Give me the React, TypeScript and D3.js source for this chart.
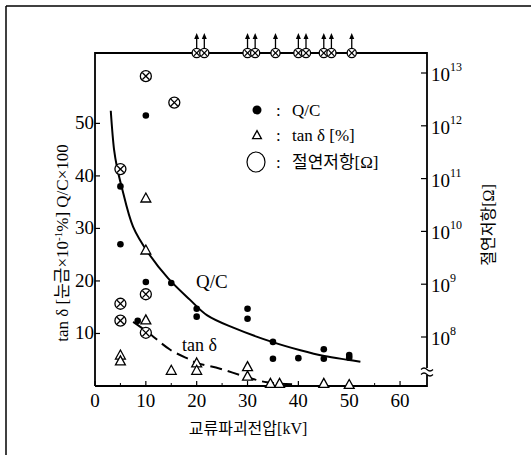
import React from 'react'
import * as d3 from 'd3'

// 교류파괴전압 [kV] vs Q/C, tan δ, 절연저항
const qcPoints: [number, number][] = [
  [5, 38], [5, 27], [8.4, 12.4], [10, 51.5], [10, 19.8], [15, 19.6],
  [20, 14.7], [20, 13.2], [30, 14.7], [30, 12.8], [35, 8.4], [35, 5.2],
  [40, 5.3], [45, 7.0], [45, 5.2], [50, 5.9], [50, 5.4],
]
const tanPoints: [number, number][] = [
  [10, 35.8], [10, 25.9], [10, 12.6], [5, 5.9], [5, 4.8], [15, 3.0],
  [20, 4.4], [20, 3.0], [30, 3.7], [30, 1.9], [34.5, 0.5], [36.3, 0.5],
  [45, 0.5], [50, 0.3],
]
// insulation resistance, log10(Ω)
const resPoints: [number, number][] = [
  [10, 12.94], [15.6, 12.44], [5, 11.18], [5, 8.63], [5, 8.31], [10, 8.81], [10, 8.08],
]
// off-scale points (above 10^13), drawn on the top frame with arrows
const resOver = [20, 21.5, 30, 31.5, 35.5, 40, 41.5, 45, 46.5, 50.5]

const qcCurve: [number, number][] = [
  [3.1, 52.4], [3.75, 45], [4.3, 41.8], [5.25, 37.9], [7.5, 30.3], [10.5, 25.3],
  [14.4, 20.5], [18.7, 16.4], [22, 13.5], [27.2, 11.1], [34.8, 8.4], [40.4, 6.8],
  [45.1, 5.7], [50, 4.95], [52.2, 4.6],
]
const tanCurve: [number, number][] = [
  [7.5, 12.2], [10.3, 10.3], [14.8, 6.9], [18.7, 5.0], [20, 4.4], [24.6, 3.3],
  [29.2, 1.9], [33.8, 0.7], [39.7, 0.3],
]

const xTicks = [0, 10, 20, 30, 40, 50, 60]
const xMinorTicks = [5, 15, 25, 35, 45, 55]
const yTicks = [10, 20, 30, 40, 50]
const rTicks = [8, 9, 10, 11, 12, 13]

const SERIF = 'Liberation Serif, DejaVu Serif, Noto Sans CJK KR, serif'

const Cross = ({ cx, cy, r }: { cx: number; cy: number; r: number }) => {
  const d = r * 0.62
  return (
    <g stroke="#000" strokeWidth={1.3} fill="#fff">
      <circle cx={cx} cy={cy} r={r} />
      <line x1={cx - d} y1={cy - d} x2={cx + d} y2={cy + d} />
      <line x1={cx - d} y1={cy + d} x2={cx + d} y2={cy - d} />
    </g>
  )
}

const Tri = ({ cx, cy, s }: { cx: number; cy: number; s: number }) => (
  <path
    d={`M${cx},${cy - s * 0.55}L${cx + s * 0.55},${cy + s * 0.45}L${cx - s * 0.55},${cy + s * 0.45}Z`}
    fill="#fff" stroke="#000" strokeWidth={1.3}
  />
)

export default function App() {
  const left = 95, right = 427, top = 53, bottom = 386
  const x = d3.scaleLinear().domain([0, 65.3]).range([left, right])
  const y = d3.scaleLinear().domain([0, 63.4]).range([bottom, top])
  const yr = d3.scaleLog().domain([1e8, 1e13]).range([337, 73])

  const line = d3.line<[number, number]>()
    .x(d => x(d[0])).y(d => y(d[1]))
    .curve(d3.curveCatmullRom.alpha(0.5))

  return (
    <svg width={531} height={455} style={{ position: 'absolute', left: 0, top: 0, background: '#fff', fontFamily: SERIF }}>
      {/* outer frame (top and left only) */}
      <line x1={6} y1={6} x2={531} y2={6} stroke="#000" strokeWidth={1.5} />
      <line x1={6} y1={6} x2={6} y2={455} stroke="#000" strokeWidth={1.5} />

      {/* plot frame */}
      <path d={`M${left},${bottom}V${top}H${right}V${bottom}H${left}`} fill="none" stroke="#000" strokeWidth={1.8} />

      {/* x ticks */}
      {xTicks.map(t => (
        <g key={t}>
          <line x1={x(t)} x2={x(t)} y1={bottom} y2={bottom - 5} stroke="#000" strokeWidth={1.2} />
          <text x={x(t)} y={bottom + 21} textAnchor="middle" fontSize={19}>{t}</text>
        </g>
      ))}
      {xMinorTicks.map(t => (
        <line key={t} x1={x(t)} x2={x(t)} y1={bottom} y2={bottom - 3} stroke="#000" strokeWidth={1} />
      ))}
      <text x={248} y={434} textAnchor="middle" fontSize={16}>교류파괴전압[kV]</text>

      {/* left y ticks */}
      {yTicks.map(t => (
        <g key={t}>
          <line x1={left} x2={left + 5} y1={y(t)} y2={y(t)} stroke="#000" strokeWidth={1.2} />
          <text x={left - 1} y={y(t) + 6} textAnchor="end" fontSize={19}>{t}</text>
        </g>
      ))}
      <text transform="translate(68,243) rotate(-90)" textAnchor="middle" fontSize={17}>
        tan δ [눈금×10<tspan dy={-6} fontSize={11}>-1</tspan><tspan dy={6}>%]  Q/C×100</tspan>
      </text>

      {/* right log axis */}
      {rTicks.map(t => (
        <g key={t}>
          <line x1={right - 6} x2={right} y1={yr(10 ** t)} y2={yr(10 ** t)} stroke="#000" strokeWidth={1.2} />
          <text x={right + 4} y={yr(10 ** t) + 8} fontSize={19}>
            10<tspan dy={-10} fontSize={12}>{t}</tspan>
          </text>
        </g>
      ))}
      {/* axis break */}
      <rect x={right - 3} y={368} width={6} height={7} fill="#fff" />
      <path d={`M${right - 6},${369.5}q3,-3 6,0t6,0M${right - 6},${374.5}q3,-3 6,0t6,0`} fill="none" stroke="#000" strokeWidth={1.2} />
      <text transform="translate(494,225) rotate(-90)" textAnchor="middle" fontSize={16}>절연저항[Ω]</text>

      {/* curves */}
      <path d={line(qcCurve) ?? ''} fill="none" stroke="#000" strokeWidth={2} />
      <path d={line(tanCurve) ?? ''} fill="none" stroke="#000" strokeWidth={2} strokeDasharray="12,6" />

      {/* data */}
      {resPoints.map((d, i) => <Cross key={i} cx={x(d[0])} cy={yr(10 ** d[1])} r={5.5} />)}
      {tanPoints.map((d, i) => <Tri key={i} cx={x(d[0])} cy={y(d[1])} s={9} />)}
      {qcPoints.map((d, i) => <circle key={i} cx={x(d[0])} cy={y(d[1])} r={3.3} fill="#000" />)}

      {/* off-scale resistance */}
      {resOver.map((v, i) => (
        <g key={i}>
          <line x1={x(v)} x2={x(v)} y1={top - 5} y2={top - 17} stroke="#000" strokeWidth={1.3} />
          <path d={`M${x(v) - 2.5},${top - 14}L${x(v)},${top - 20}L${x(v) + 2.5},${top - 14}Z`} fill="#000" />
          <Cross cx={x(v)} cy={top} r={4.6} />
        </g>
      ))}

      {/* annotations */}
      <text x={196} y={288} fontSize={19}>Q/C</text>
      <text x={182} y={351} fontSize={18}>tan δ</text>

      {/* legend */}
      <circle cx={257} cy={110} r={4.5} fill="#000" />
      <text x={276} y={116} fontSize={17}>:</text>
      <text x={292} y={116} fontSize={17}>Q/C</text>
      <Tri cx={257} cy={135} s={8} />
      <text x={276} y={141} fontSize={17}>:</text>
      <text x={292} y={141} fontSize={17}>tan δ [%]</text>
      <ellipse cx={256} cy={162} rx={9} ry={10} fill="#fff" stroke="#000" strokeWidth={1.2} />
      <text x={276} y={168} fontSize={17}>:</text>
      <text x={292} y={168} fontSize={17}>절연저항[Ω]</text>
    </svg>
  )
}
